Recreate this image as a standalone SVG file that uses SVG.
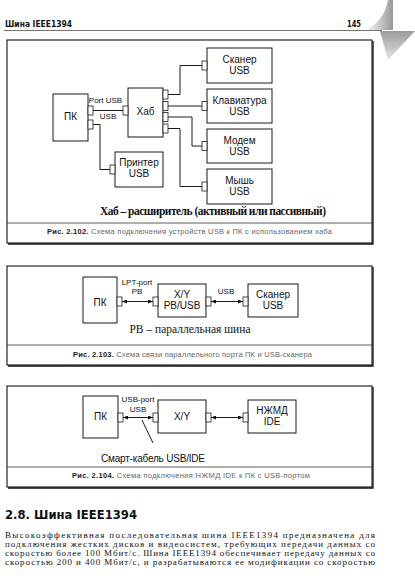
<svg xmlns="http://www.w3.org/2000/svg" width="415" height="584" viewBox="0 0 415 584">
<defs>
<style>
.box{fill:#fff;stroke:#1a1a1a;stroke-width:1}
.port{fill:#fff;stroke:#1a1a1a;stroke-width:0.8}
.wire{fill:none;stroke:#1a1a1a;stroke-width:1}
.t{font-family:"Liberation Sans",Arial,sans-serif;font-size:10px;fill:#111;text-anchor:middle}
.lbl{font-family:"Liberation Sans",Arial,sans-serif;font-size:8px;fill:#111;text-anchor:middle}
.frame{fill:none;stroke:#111;stroke-width:1.1}
.shadow{fill:none;stroke:#111;stroke-width:1.3}
.sep{stroke:#333;stroke-width:0.8}
.cap{font-family:"Liberation Sans",Arial,sans-serif;font-size:7.5px;fill:#666}
.capb{font-weight:bold;fill:#222}
.serif{font-family:"Liberation Serif","Times New Roman",serif;fill:#111}
.hdr{font-family:"DejaVu Sans",sans-serif;font-weight:bold;fill:#111}
</style>
<marker id="ah" viewBox="0 0 10 8" refX="10" refY="4" markerWidth="5" markerHeight="4" markerUnits="userSpaceOnUse" orient="auto-start-reverse"><path d="M0,0 L10,4 L0,8 z" fill="#111"/></marker>
<linearGradient id="curl1" x1="0" y1="0" x2="1" y2="0"><stop offset="0" stop-color="#fff"/><stop offset="1" stop-color="#999"/></linearGradient>
<linearGradient id="curl2" x1="0" y1="0" x2="0" y2="1"><stop offset="0" stop-color="#9a9a9a"/><stop offset="1" stop-color="#e6e6e6"/></linearGradient>
</defs>
<rect width="415" height="584" fill="#fff"/>

<!-- page header -->
<g id="header">
<path d="M364,30 C376,26 385,16 388,0 L393,0 L393,30 Z" fill="url(#curl1)"/>
<path d="M380,31 L415,31 L388,60 Z" fill="url(#curl2)"/>
<line x1="4" y1="30.5" x2="382" y2="30.5" stroke="#777" stroke-width="1"/>
<text class="hdr" x="5" y="27" font-size="8" textLength="67" lengthAdjust="spacingAndGlyphs">Шина IEEE1394</text>
<text class="hdr" x="347" y="27" font-size="8" textLength="14" lengthAdjust="spacingAndGlyphs">145</text>
</g>

<!-- Figure 2.102 -->
<g id="fig102-frame">
<rect class="frame" x="7" y="40" width="365" height="203"/>
<polyline class="shadow" points="8,244 373,244 373,41"/>
<line class="sep" x1="7" y1="223" x2="372" y2="223"/>
<text class="cap" x="47" y="234" textLength="285" lengthAdjust="spacing"><tspan class="capb">Рис. 2.102.</tspan> Схема подключения устройств USB к ПК с использованием хаба</text>
<text class="serif" x="100" y="215" font-size="11.5" font-weight="bold" textLength="226" lengthAdjust="spacing">Хаб – расширитель (активный или пассивный)</text>
</g>
<g id="connectors102">
<line class="wire" x1="93" y1="110.5" x2="123" y2="110.5"/>
<polyline class="wire" points="93,124.5 100,124.5 100,169.5 110,169.5"/>
<polyline class="wire" points="168,94.5 180,94.5 180,65.5 202,65.5"/>
<line class="wire" x1="168" y1="106" x2="202" y2="106"/>
<polyline class="wire" points="168,117 192,117 192,146 202,146"/>
<polyline class="wire" points="168,128.5 180,128.5 180,186.5 202,186.5"/>
<text class="lbl" x="105.5" y="103">Port USB</text>
<text class="lbl" x="108" y="119">USB</text>
</g>
<g id="pc102">
<rect class="box" x="53" y="94" width="35" height="47"/>
<rect class="port" x="88" y="106" width="5" height="9"/>
<rect class="port" x="88" y="120" width="5" height="9"/>
<text class="t" x="70.5" y="120">ПК</text>
</g>
<g id="hub102">
<rect class="box" x="128" y="88" width="35" height="49"/>
<rect class="port" x="123" y="106" width="5" height="9"/>
<rect class="port" x="163" y="90" width="5" height="9"/>
<rect class="port" x="163" y="101.5" width="5" height="9"/>
<rect class="port" x="163" y="112.5" width="5" height="9"/>
<rect class="port" x="163" y="124" width="5" height="9"/>
<text class="t" x="145.5" y="115">Хаб</text>
</g>
<g id="printer102">
<rect class="box" x="115" y="152" width="48" height="35"/>
<rect class="port" x="110" y="165" width="5" height="9"/>
<text class="t" x="139" y="166">Принтер</text>
<text class="t" x="139" y="177">USB</text>
</g>
<g id="scanner102">
<rect class="box" x="207" y="48" width="65" height="35"/>
<rect class="port" x="202" y="61" width="5" height="9"/>
<text class="t" x="239.5" y="63">Сканер</text>
<text class="t" x="239.5" y="74">USB</text>
</g>
<g id="keyboard102">
<rect class="box" x="207" y="89" width="65" height="34"/>
<rect class="port" x="202" y="101.5" width="5" height="9"/>
<text class="t" x="239.5" y="103.5">Клавиатура</text>
<text class="t" x="239.5" y="114.5">USB</text>
</g>
<g id="modem102">
<rect class="box" x="207" y="129" width="65" height="34"/>
<rect class="port" x="202" y="141.5" width="5" height="9"/>
<text class="t" x="239.5" y="143.5">Модем</text>
<text class="t" x="239.5" y="154.5">USB</text>
</g>
<g id="mouse102">
<rect class="box" x="207" y="169" width="65" height="35"/>
<rect class="port" x="202" y="182" width="5" height="9"/>
<text class="t" x="239.5" y="184">Мышь</text>
<text class="t" x="239.5" y="195">USB</text>
</g>

<!-- Figure 2.103 -->
<g id="fig103-frame">
<rect class="frame" x="7" y="266" width="365" height="99"/>
<polyline class="shadow" points="8,366 373,366 373,267"/>
<line class="sep" x1="7" y1="345" x2="372" y2="345"/>
<text class="cap" x="73" y="357" textLength="239" lengthAdjust="spacing"><tspan class="capb">Рис. 2.103.</tspan> Схема связи параллельного порта ПК и USB-сканера</text>
<text class="serif" x="190" y="333" font-size="11.5" text-anchor="middle">PB – параллельная шина</text>
</g>
<g id="connectors103">
<line class="wire" x1="122" y1="301.5" x2="153" y2="301.5" marker-start="url(#ah)" marker-end="url(#ah)"/>
<line class="wire" x1="211" y1="301.5" x2="243" y2="301.5" marker-start="url(#ah)" marker-end="url(#ah)"/>
<text class="lbl" x="137" y="285">LPT-port</text>
<text class="lbl" x="137" y="294">PB</text>
<text class="lbl" x="226" y="294">USB</text>
</g>
<g id="pc103">
<rect class="box" x="83" y="277" width="34" height="46"/>
<rect class="port" x="117" y="297" width="5" height="9"/>
<text class="t" x="100" y="306">ПК</text>
</g>
<g id="xy103">
<rect class="box" x="158" y="284" width="48" height="33"/>
<rect class="port" x="153" y="297" width="5" height="9"/>
<rect class="port" x="206" y="297" width="5" height="9"/>
<text class="t" x="182" y="298">X/Y</text>
<text class="t" x="182" y="309">PB/USB</text>
</g>
<g id="scanner103">
<rect class="box" x="248" y="284" width="50" height="33"/>
<rect class="port" x="243" y="297" width="5" height="9"/>
<text class="t" x="273" y="298">Сканер</text>
<text class="t" x="273" y="309">USB</text>
</g>

<!-- Figure 2.104 -->
<g id="fig104-frame">
<rect class="frame" x="7" y="386" width="365" height="101"/>
<polyline class="shadow" points="8,488 373,488 373,387"/>
<line class="sep" x1="7" y1="467" x2="372" y2="467"/>
<text class="cap" x="72" y="478" textLength="238" lengthAdjust="spacing"><tspan class="capb">Рис. 2.104.</tspan> Схема подключения НЖМД IDE к ПК с USB-портом</text>
</g>
<g id="connectors104">
<line class="wire" x1="123" y1="417.5" x2="153" y2="417.5" marker-start="url(#ah)" marker-end="url(#ah)"/>
<line class="wire" x1="211" y1="417.5" x2="243" y2="417.5" marker-start="url(#ah)" marker-end="url(#ah)"/>
<line class="wire" x1="142" y1="420" x2="153" y2="443"/>
<text class="lbl" x="138" y="402">USB-port</text>
<text class="lbl" x="138" y="412">USB</text>
<text class="t" x="101" y="462" style="text-anchor:start" textLength="104" lengthAdjust="spacing">Смарт-кабель USB/IDE</text>
</g>
<g id="pc104">
<rect class="box" x="83" y="396" width="35" height="42"/>
<rect class="port" x="118" y="413" width="5" height="9"/>
<text class="t" x="100.5" y="420">ПК</text>
</g>
<g id="xy104">
<rect class="box" x="158" y="400" width="48" height="33"/>
<rect class="port" x="153" y="413" width="5" height="9"/>
<rect class="port" x="206" y="413" width="5" height="9"/>
<text class="t" x="182" y="420">X/Y</text>
</g>
<g id="hdd104">
<rect class="box" x="248" y="400" width="48" height="33"/>
<rect class="port" x="243" y="413" width="5" height="9"/>
<text class="t" x="272" y="413.5">НЖМД</text>
<text class="t" x="272" y="425">IDE</text>
</g>

<!-- Section text -->
<g id="section">
<text class="hdr" x="5" y="519" font-size="12" textLength="132" lengthAdjust="spacingAndGlyphs">2.8. Шина IEEE1394</text>
<text class="serif" x="5" y="537.5" font-size="9" textLength="370" lengthAdjust="spacing">Высокоэффективная последовательная шина IEEE1394 предназначена для</text>
<text class="serif" x="5" y="546.5" font-size="9" textLength="370" lengthAdjust="spacing">подключения жестких дисков и видеосистем, требующих передачи данных со</text>
<text class="serif" x="5" y="555.5" font-size="9" textLength="370" lengthAdjust="spacing">скоростью более 100 Мбит/с. Шина IEEE1394 обеспечивает передачу данных со</text>
<text class="serif" x="5" y="564.5" font-size="9" textLength="370" lengthAdjust="spacing">скоростью 200 и 400 Мбит/с, и разрабатываются ее модификации со скоростью</text>
</g>
</svg>
